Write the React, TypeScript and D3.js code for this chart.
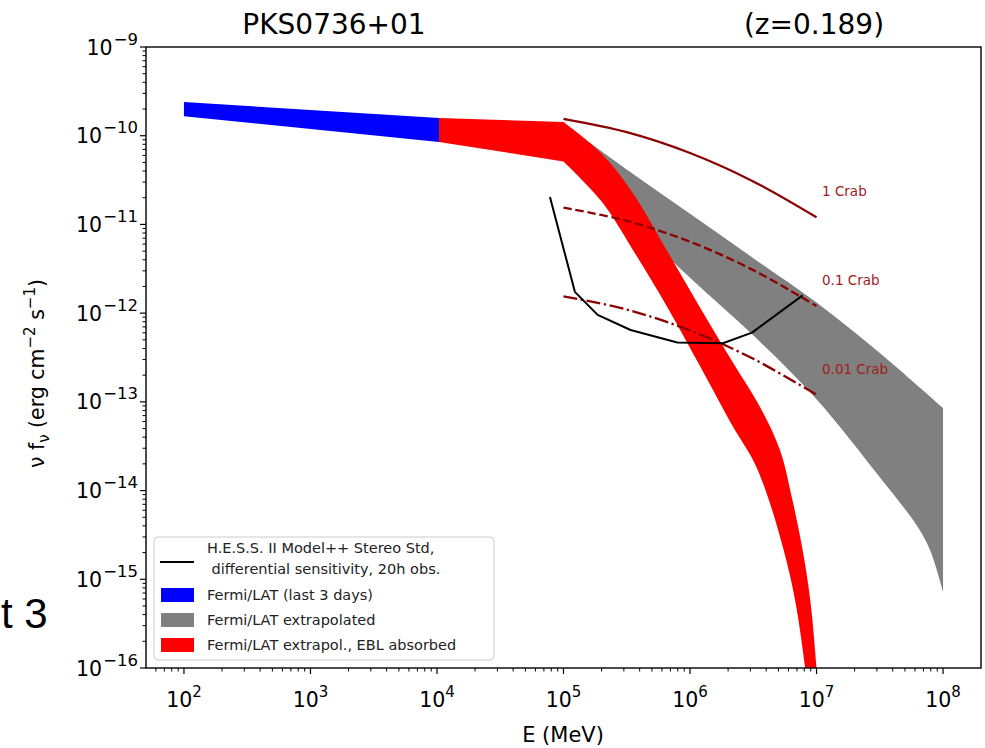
import React from "react";
import * as d3 from "d3";

// ---- data (log10 E [MeV], log10 nuFnu [erg cm^-2 s^-1]) ----
const blueUpper: [number, number][] = [[2.0, -9.62], [4.016, -9.80]];
const blueLower: [number, number][] = [[2.0, -9.78], [4.016, -10.07]];

// EBL-absorbed band: flat part up to the knee, then curved part
const redUpperFlat: [number, number][] = [[4.016, -9.80], [5.0, -9.845]];
const redUpperCurve: [number, number][] = [
  [5.0, -9.845], [5.3, -10.2], [5.55, -10.65], [5.82, -11.3], [6.08, -11.94],
  [6.34, -12.56], [6.55, -13.05], [6.71, -13.54], [6.81, -14.11],
  [6.89, -14.67], [6.95, -15.23], [7.0, -16.0], [7.02, -16.4],
];
const redLowerFlat: [number, number][] = [[4.016, -10.07], [5.0, -10.29]];
const redLowerCurve: [number, number][] = [
  [5.0, -10.29], [5.3, -10.74], [5.55, -11.29], [5.82, -11.93], [6.08, -12.6],
  [6.34, -13.28], [6.5, -13.66], [6.61, -14.05], [6.74, -14.67],
  [6.83, -15.23], [6.91, -16.0], [6.94, -16.4],
];

const grayUpper: [number, number][] = [
  [5.0, -9.86], [5.5, -10.38], [6.0, -10.88], [6.5, -11.38], [7.0, -11.88], [7.5, -12.45], [8.0, -13.07],
];
const grayLower: [number, number][] = [
  [5.0, -10.29], [5.5, -10.93], [6.0, -11.6], [6.5, -12.25], [7.0, -12.97], [7.5, -13.85],
  [7.8, -14.41], [7.9, -14.68], [8.0, -15.14],
];

const hessSens: [number, number][] = [
  [4.893, -10.69], [5.09, -11.76], [5.27, -12.02], [5.53, -12.19], [5.9, -12.33],
  [6.26, -12.34], [6.49, -12.22], [6.89, -11.8],
];

const crabLogE = [5.0, 5.5, 6.0, 6.5, 7.0];
const crab1 = [-9.81, -9.96, -10.195, -10.515, -10.92];
const crabLevels = [
  { label: "1 Crab", scale: 1, dash: "none" },
  { label: "0.1 Crab", scale: 0.1, dash: "8.5,3.7" },
  { label: "0.01 Crab", scale: 0.01, dash: "14,3.6,2.3,3.6" },
];

const xTickExps = [2, 3, 4, 5, 6, 7, 8];
const yTickExps = [-16, -15, -14, -13, -12, -11, -10, -9];

const legendItems = [
  { kind: "line", color: "#000000", lines: ["H.E.S.S. II Model++ Stereo Std,", " differential sensitivity, 20h obs."] },
  { kind: "patch", color: "#0000ff", lines: ["Fermi/LAT (last 3 days)"] },
  { kind: "patch", color: "#808080", lines: ["Fermi/LAT extrapolated"] },
  { kind: "patch", color: "#ff0000", lines: ["Fermi/LAT extrapol., EBL absorbed"] },
];

// ---- layout ----
const W = 985, H = 748;
const L = 146, R = 981, T = 47, B = 668;
const crabColor = "#8b0000";
const font = "'DejaVu Sans', sans-serif";

export default function App() {
  const x = d3.scaleLog().domain([10 ** 1.7, 10 ** 8.3]).range([L, R]);
  const y = d3.scaleLog().domain([1e-16, 1e-9]).range([B, T]);
  const px = (p: [number, number]) => x(10 ** p[0]);
  const py = (p: [number, number]) => y(10 ** p[1]);

  const smooth = d3.line<[number, number]>().x(px).y(py).curve(d3.curveCatmullRom.alpha(0.5));
  const straight = d3.line<[number, number]>().x(px).y(py);

  const join = (a: string, b: string) => a + "L" + b.slice(1);
  const rev = (p: [number, number][]) => [...p].reverse();

  const redPath =
    join(join(join(straight(redUpperFlat) as string, smooth(redUpperCurve) as string),
      smooth(rev(redLowerCurve)) as string), straight(rev(redLowerFlat)) as string) + "Z";
  const grayPath = join(smooth(grayUpper) as string, smooth(rev(grayLower)) as string) + "Z";
  const bluePath = join(straight(blueUpper) as string, straight(rev(blueLower)) as string) + "Z";

  const minorX: number[] = [];
  for (let e = 1; e <= 8; e++) for (let m = 2; m <= 9; m++) {
    const v = m * 10 ** e;
    if (v >= 10 ** 1.7 && v <= 10 ** 8.3) minorX.push(v);
  }
  const minorY: number[] = [];
  for (let e = -16; e < -9; e++) for (let m = 2; m <= 9; m++) minorY.push(m * 10 ** e);

  const crabLine = d3.line<number>()
    .x((_, i) => x(10 ** crabLogE[i]))
    .y((v) => y(10 ** v))
    .curve(d3.curveCatmullRom.alpha(0.5));

  return (
    <svg width={W} height={H} style={{ position: "absolute", left: 0, top: 0, background: "#fff" }}
      fontFamily={font}>
      <defs>
        <clipPath id="plotclip"><rect x={L} y={T} width={R - L} height={B - T} /></clipPath>
      </defs>
      <rect x={0} y={0} width={W} height={H} fill="#fff" />

      {/* slide fragment */}
      <text x={1} y={628} fontFamily="'Liberation Sans', Arial, sans-serif" fontSize={42} fill="#000">t 3</text>

      {/* titles */}
      <text x={334} y={34} textAnchor="middle" fontSize={28} fill="#000">PKS0736+01</text>
      <text x={814} y={34} textAnchor="middle" fontSize={28} fill="#000">(z=0.189)</text>

      <g clipPath="url(#plotclip)">
        <path d={grayPath} fill="#808080" />
        <path d={redPath} fill="#ff0000" />
        <path d={bluePath} fill="#0000ff" />
        {crabLevels.map((c) => (
          <path key={c.label}
            d={crabLine(crab1.map((v) => v + Math.log10(c.scale))) as string}
            fill="none" stroke={crabColor} strokeWidth={2.3}
            strokeDasharray={c.dash === "none" ? undefined : c.dash} />
        ))}
        <path d={straight(hessSens) as string} fill="none" stroke="#000" strokeWidth={2} strokeLinejoin="round" />
      </g>

      {crabLevels.map((c) => (
        <text key={c.label + "t"} x={822}
          y={y(10 ** (crab1[crab1.length - 1] + Math.log10(c.scale))) - 25}
          fontSize={13.5} fill="#a01c1c" dominantBaseline="middle">{c.label}</text>
      ))}

      {/* axes frame */}
      <rect x={L} y={T} width={R - L} height={B - T} fill="none" stroke="#000" strokeWidth={1.4} />

      {/* x ticks */}
      {xTickExps.map((e) => (
        <g key={"xt" + e}>
          <line x1={x(10 ** e)} x2={x(10 ** e)} y1={B} y2={B + 6} stroke="#000" strokeWidth={1.2} />
          <text x={x(10 ** e)} y={707} textAnchor="middle" fontSize={20.5} fill="#000">
            10<tspan dy={-10} fontSize={15}>{e}</tspan>
          </text>
        </g>
      ))}
      {minorX.map((v, i) => (
        <line key={"xm" + i} x1={x(v)} x2={x(v)} y1={B} y2={B + 3.5} stroke="#000" strokeWidth={1} />
      ))}

      {/* y ticks */}
      {yTickExps.map((e) => (
        <g key={"yt" + e}>
          <line x1={L - 6} x2={L} y1={y(10 ** e)} y2={y(10 ** e)} stroke="#000" strokeWidth={1.2} />
          <text x={138} y={y(10 ** e) + 7.5} textAnchor="end" fontSize={20.5} fill="#000">
            10<tspan dy={-10} dx={1} fontSize={16.5}>{"\u2212" + Math.abs(e)}</tspan>
          </text>
        </g>
      ))}
      {minorY.map((v, i) => (
        <line key={"ym" + i} x1={L - 3.5} x2={L} y1={y(v)} y2={y(v)} stroke="#000" strokeWidth={1} />
      ))}

      {/* axis labels */}
      <text x={563} y={742} textAnchor="middle" fontSize={21} fill="#000">E (MeV)</text>
      <text transform="translate(44,468) rotate(-90)" textAnchor="start" fontSize={20.5} fill="#000">
        ν f<tspan dy={5} fontSize={15}>ν</tspan><tspan dy={-5}> (erg cm</tspan>
        <tspan dy={-9} fontSize={15}>−2</tspan><tspan dy={9}> s</tspan>
        <tspan dy={-9} fontSize={15}>−1</tspan><tspan dy={9}>)</tspan>
      </text>

      {/* legend */}
      <rect x={154} y={537} width={340} height={123} rx={4} fill="#fff" fillOpacity={0.8} stroke="#cccccc" strokeWidth={1} />
      {legendItems.map((it, i) => {
        const cy = [562, 595, 620, 645][i];
        return (
          <g key={"lg" + i}>
            {it.kind === "line" ? (
              <line x1={160} x2={194} y1={cy} y2={cy} stroke={it.color} strokeWidth={2} />
            ) : (
              <rect x={161} y={cy - 7} width={33} height={14} fill={it.color} />
            )}
            {it.lines.map((t, j) => (
              <text key={j} x={207} y={cy + (it.lines.length === 1 ? 5 : -14 + j * 21 + 5)}
                fontSize={14.5} fill="#222" style={{ whiteSpace: "pre" }}>{t}</text>
            ))}
          </g>
        );
      })}
    </svg>
  );
}
